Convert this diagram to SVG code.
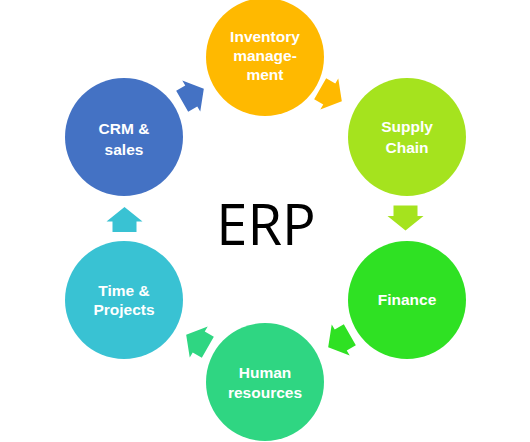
<svg xmlns="http://www.w3.org/2000/svg" width="530" height="442" viewBox="0 0 530 442">
<defs>
<style>
.lbl{font-family:"Liberation Sans",Arial,sans-serif;font-weight:bold;font-size:15.5px;fill:#ffffff;text-anchor:middle}
.title{font-family:"Open Sans","Liberation Sans",sans-serif;font-size:56px;fill:#000000;text-anchor:middle}
</style>
<path id="arr" d="M0,-12.5 L18,2 L12,2 L12,12.5 L-12,12.5 L-12,2 L-18,2 Z"/>
</defs>
<rect width="530" height="442" fill="#ffffff"/>
<g id="connectors">
<use href="#arr" fill="#4472C4" transform="translate(193,95) rotate(60)"/>
<use href="#arr" fill="#FFB900" transform="translate(331,95) rotate(120)"/>
<use href="#arr" fill="#A5E31E" transform="translate(405.5,218) rotate(180)"/>
<use href="#arr" fill="#2FE123" transform="translate(339,341) rotate(240)"/>
<use href="#arr" fill="#2FD682" transform="translate(197,341) rotate(300)"/>
<use href="#arr" fill="#39C2D3" transform="translate(124.5,219.5)"/>
</g>
<g id="inventory">
<circle cx="265" cy="57" r="59" fill="#FFB900"/>
<text class="lbl" x="265" y="42">Inventory</text>
<text class="lbl" x="265" y="61">manage-</text>
<text class="lbl" x="265" y="80">ment</text>
</g>
<g id="supply">
<circle cx="407" cy="137" r="59" fill="#A5E31E"/>
<text class="lbl" x="407" y="132">Supply</text>
<text class="lbl" x="407" y="153">Chain</text>
</g>
<g id="finance">
<circle cx="407" cy="300" r="59" fill="#2FE123"/>
<text class="lbl" x="407" y="305">Finance</text>
</g>
<g id="hr">
<circle cx="265" cy="382" r="59" fill="#2FD682"/>
<text class="lbl" x="265" y="378">Human</text>
<text class="lbl" x="265" y="398">resources</text>
</g>
<g id="time">
<circle cx="124" cy="300" r="59" fill="#39C2D3"/>
<text class="lbl" x="124" y="296">Time &amp;</text>
<text class="lbl" x="124" y="315">Projects</text>
</g>
<g id="crm">
<circle cx="124" cy="137" r="59" fill="#4472C4"/>
<text class="lbl" x="124" y="134">CRM &amp;</text>
<text class="lbl" x="124" y="155">sales</text>
</g>
<g id="erp">
<text class="title" x="266" y="245">ERP</text>
</g>
</svg>
